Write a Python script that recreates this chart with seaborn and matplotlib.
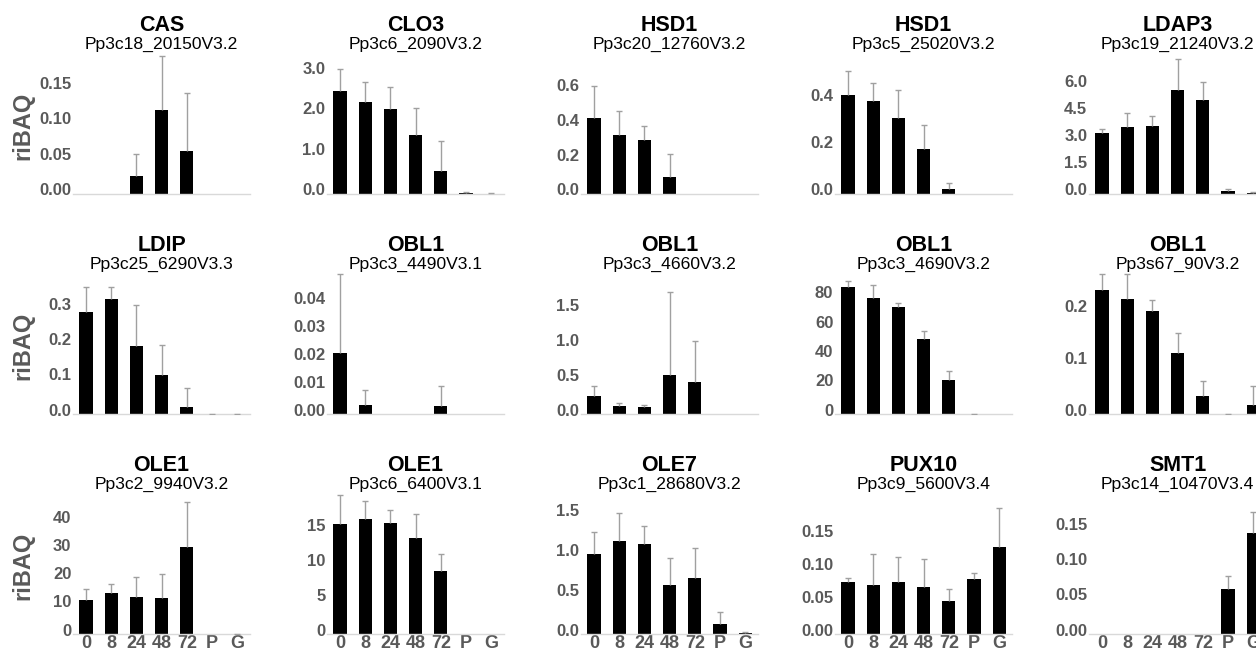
import numpy as np
import pandas as pd
import matplotlib
matplotlib.use('Agg')
import matplotlib.pyplot as plt
import seaborn as sns

# time points / tissues on the x axis
times = ['0', '8', '24', '48', '72', 'P', 'G']

genes = ['CAS', 'CLO3', 'HSD1', 'HSD1', 'LDAP3',
         'LDIP', 'OBL1', 'OBL1', 'OBL1', 'OBL1',
         'OLE1', 'OLE1', 'OLE7', 'PUX10', 'SMT1']
gene_ids = ['Pp3c18_20150V3.2', 'Pp3c6_2090V3.2', 'Pp3c20_12760V3.2', 'Pp3c5_25020V3.2', 'Pp3c19_21240V3.2',
            'Pp3c25_6290V3.3', 'Pp3c3_4490V3.1', 'Pp3c3_4660V3.2', 'Pp3c3_4690V3.2', 'Pp3s67_90V3.2',
            'Pp3c2_9940V3.2', 'Pp3c6_6400V3.1', 'Pp3c1_28680V3.2', 'Pp3c9_5600V3.4', 'Pp3c14_10470V3.4']

nan = np.nan
# mean riBAQ and upper error (SD) per gene
cas = [0, 0, 0.026, 0.118, 0.060, 0, 0]
cas_err = [nan, nan, 0.030, 0.076, 0.082, nan, nan]
clo3 = [2.53, 2.26, 2.10, 1.46, 0.56, 0.02, 0.01]
clo3_err = [0.55, 0.50, 0.54, 0.66, 0.74, 0.03, 0.02]
hsd1_a = [0.44, 0.34, 0.31, 0.096, 0, 0, 0]
hsd1_a_err = [0.18, 0.14, 0.08, 0.137, nan, nan, nan]
hsd1_b = [0.423, 0.394, 0.323, 0.191, 0.021, 0, 0]
hsd1_b_err = [0.10, 0.076, 0.118, 0.104, 0.026, nan, nan]
ldap3 = [3.36, 3.67, 3.76, 5.71, 5.19, 0.15, 0.05]
ldap3_err = [0.24, 0.79, 0.55, 1.72, 0.96, 0.13, 0.05]

ldip = [0.291, 0.328, 0.193, 0.112, 0.021, 0, 0]
ldip_err = [0.069, 0.033, 0.116, 0.085, 0.053, 0, 0]
obl1_a = [0.0218, 0.0034, 0, 0, 0.0028, 0, 0]
obl1_a_err = [0.0285, 0.0052, nan, nan, 0.0071, nan, nan]
obl1_b = [0.264, 0.110, 0.096, 0.556, 0.46, 0, 0]
obl1_b_err = [0.143, 0.043, 0.029, 1.202, 0.589, nan, nan]
obl1_c = [86.4, 78.9, 72.7, 51.1, 23.4, 0, 0]
obl1_c_err = [4.3, 9.1, 2.8, 5.7, 5.7, 0, nan]
obl1_d = [0.239, 0.223, 0.199, 0.117, 0.035, 0, 0.017]
obl1_d_err = [0.031, 0.047, 0.022, 0.040, 0.028, 0, 0.038]

ole1_a = [12.1, 14.5, 13.1, 12.7, 31.1, 0, 0]
ole1_a_err = [3.8, 3.3, 7.3, 8.5, 16.0, nan, 0]
ole1_b = [15.9, 16.6, 16.0, 13.8, 9.13, 0, 0]
ole1_b_err = [4.1, 2.5, 1.9, 3.5, 2.4, nan, nan]
ole7 = [1.0, 1.17, 1.13, 0.616, 0.708, 0.126, 0.008]
ole7_err = [0.286, 0.347, 0.232, 0.335, 0.369, 0.155, 0.022]
pux10 = [0.0787, 0.0741, 0.0797, 0.0721, 0.0508, 0.0832, 0.132]
pux10_err = [0.006, 0.048, 0.038, 0.042, 0.017, 0.010, 0.059]
smt1 = [0, 0, 0, 0, 0, 0.064, 0.144]
smt1_err = [nan, nan, nan, nan, nan, 0.019, 0.030]

means = [cas, clo3, hsd1_a, hsd1_b, ldap3,
         ldip, obl1_a, obl1_b, obl1_c, obl1_d,
         ole1_a, ole1_b, ole7, pux10, smt1]
errs = [cas_err, clo3_err, hsd1_a_err, hsd1_b_err, ldap3_err,
        ldip_err, obl1_a_err, obl1_b_err, obl1_c_err, obl1_d_err,
        ole1_a_err, ole1_b_err, ole7_err, pux10_err, smt1_err]

# y axis ticks and top of each panel
yticks = [[0, 0.05, 0.10, 0.15], [0, 1, 2, 3], [0, 0.2, 0.4, 0.6], [0, 0.2, 0.4], [0, 1.5, 3.0, 4.5, 6.0],
          [0, 0.1, 0.2, 0.3], [0, 0.01, 0.02, 0.03, 0.04], [0, 0.5, 1.0, 1.5], [0, 20, 40, 60, 80], [0, 0.1, 0.2],
          [0, 10, 20, 30, 40], [0, 5, 10, 15], [0, 0.5, 1.0, 1.5], [0, 0.05, 0.10, 0.15], [0, 0.05, 0.10, 0.15]]
tick_fmt = ['{:.2f}', '{:.1f}', '{:.1f}', '{:.1f}', '{:.1f}',
            '{:.1f}', '{:.2f}', '{:.1f}', '{:.0f}', '{:.1f}',
            '{:.0f}', '{:.0f}', '{:.1f}', '{:.2f}', '{:.2f}']
y_max = [0.211, 3.70, 0.865, 0.638, 8.26,
         0.426, 0.0539, 2.156, 102.3, 0.29,
         53.4, 21.6, 1.885, 0.228, 0.214]

sns.set_theme(style='white')
plt.rcParams['font.family'] = ['Liberation Sans', 'DejaVu Sans']

W, H = 1256, 649
fig = plt.figure(figsize=(W / 100, H / 100), dpi=100)

col_x0 = [86, 340, 594, 848, 1102]   # px centre of first bar
row_base = [194, 414, 634]           # px baseline of each row
step = 25.2
ax_h = 150
grey = '#595959'

for i in range(15):
    r, c = divmod(i, 5)
    ax = fig.add_axes([(col_x0[c] - step / 2) / W, 1 - row_base[r] / H, 7 * step / W, ax_h / H])

    df = pd.DataFrame({'time': times, 'riBAQ': means[i]})
    sns.barplot(data=df, x='time', y='riBAQ', order=times, color='black', saturation=1,
                width=0.53, errorbar=None, linewidth=0, ax=ax)

    up = np.array(errs[i], dtype=float)
    eb = ax.errorbar(np.arange(7), means[i], yerr=[np.zeros(7), up], fmt='none',
                     ecolor='#a0a0a0', elinewidth=1, capsize=2.5, capthick=1, zorder=3)
    eb[1][0].set_visible(False)

    ax.set_xlim(-0.5, 6.5)
    ax.set_ylim(0, y_max[i])
    # labels sit a few pixels above their value in the original
    shift = 4.5 * y_max[i] / ax_h
    ax.set_yticks([t + shift for t in yticks[i]], [tick_fmt[i].format(t) for t in yticks[i]])
    ax.tick_params(axis='y', length=0, pad=1.5, labelsize=12, labelcolor=grey)
    for lab in ax.get_yticklabels():
        lab.set_fontweight('bold')

    if r == 2:
        ax.tick_params(axis='x', length=0, pad=0.5, labelsize=13, labelcolor=grey)
        for lab in ax.get_xticklabels():
            lab.set_fontweight('bold')
    else:
        ax.set_xticklabels([])
        ax.tick_params(axis='x', length=0)
    ax.set_xlabel('')
    ax.set_ylabel('')

    sns.despine(ax=ax, left=True)
    ax.spines['bottom'].set_color('#d9d9d9')
    ax.spines['bottom'].set_linewidth(1)

    ax.text(0.5, 163 / ax_h, genes[i], transform=ax.transAxes, ha='center', va='baseline',
            fontsize=15.5, fontweight='bold', color='black')
    ax.text(0.5, 145 / ax_h, gene_ids[i], transform=ax.transAxes, ha='center', va='baseline',
            fontsize=12.6, color='black')
    if c == 0:
        ax.text((23 - 73.4) / (7 * step), 68 / ax_h, 'riBAQ', transform=ax.transAxes,
                rotation=90, ha='center', va='center', fontsize=17, fontweight='bold', color=grey)

fig.savefig('out.png', dpi=100)
